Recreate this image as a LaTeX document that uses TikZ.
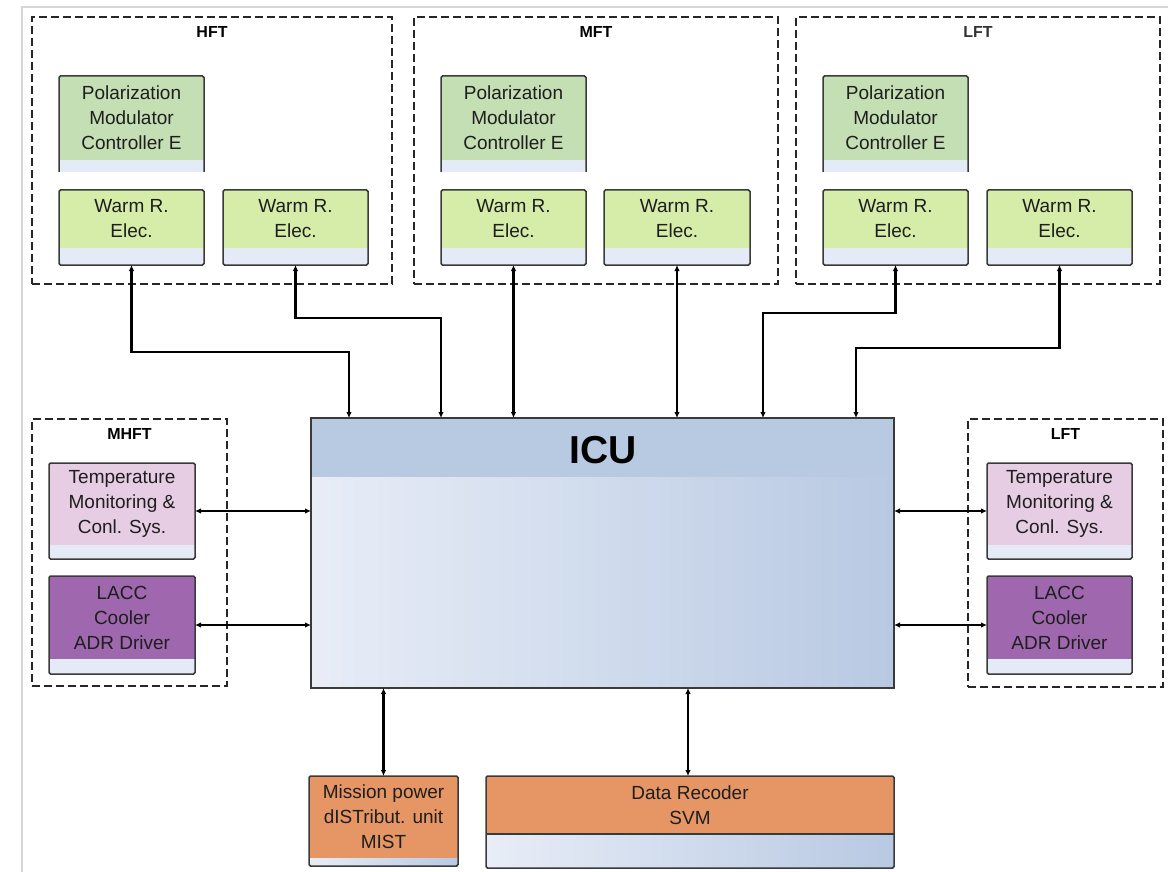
\documentclass[tikz,border=0pt]{standalone}
\usepackage{fontspec}
\setmainfont{Liberation Sans}
\usetikzlibrary{arrows.meta}
\definecolor{polg}{HTML}{C4DFB4}
\definecolor{warmg}{HTML}{D5EDA9}
\definecolor{lb}{HTML}{E4EBF6}
\definecolor{pinkc}{HTML}{E6CDE3}
\definecolor{purp}{HTML}{9E67AE}
\definecolor{orng}{HTML}{E59664}
\definecolor{icuh}{HTML}{B8C9E2}
\definecolor{icul}{HTML}{E8EDF7}
\definecolor{edgec}{HTML}{3A3A3A}
\definecolor{frm}{HTML}{D6D6D6}
\definecolor{txtc}{HTML}{1E1E1E}
\newcommand\cbox[9]{%
 \fill[#7] (#2,#3) rectangle ++(#4,#5);
 \fill[lb] (#2,#3+#5) rectangle ++(#4,#6);
 \node[bx, #9, minimum width=#4pt, minimum height=#5pt+#6pt, anchor=north west] (#1) at (#2,#3) {};
 \node[txt] at (#2+#4/2,#3+#5/2) {#8};
}
\newcommand\polbox[3]{% name, x, y
 \cbox{#1}{#2}{#3}{145}{84}{12}{polg}{Polarization\\Modulator\\Controller E}{draw=none}
 \draw[edgec, line width=1.5pt, rounded corners=1.5pt] (#1.south west) -- (#1.north west) -- (#1.north east) -- (#1.south east);
}
\begin{document}
\begin{tikzpicture}[x=1pt,y=-1pt,
  bx/.style={draw=edgec, line width=1.5pt, rounded corners=1.5pt, inner sep=0pt, outer sep=0pt},
  grp/.style={draw=black!85, line width=1.5pt, dash pattern=on 8pt off 4pt, inner sep=0pt, outer sep=0pt, anchor=north west},
  txt/.style={align=center, text=txtc, font=\fontsize{19}{25}\selectfont},
  lbl/.style={text=black, font=\fontsize{16}{16}\selectfont\bfseries},
  arr/.style={line width=2.2pt, black, {Latex[length=6pt,width=5.5pt]}-{Latex[length=6pt,width=5.5pt]}}]
\useasboundingbox (0,0) rectangle (1168,872);
\draw[frm, line width=1.5pt] (22,872) -- (22,7) -- (1168,7);

% group frames
\node[grp, minimum width=360pt, minimum height=267pt] (hft) at (32,17) {};
\node[lbl] at ([yshift=-15pt]hft.north) {HFT};
\node[grp, minimum width=364pt, minimum height=267pt] (mft) at (414,17) {};
\node[lbl] at ([yshift=-15pt]mft.north) {MFT};
\node[grp, minimum width=364pt, minimum height=267pt] (lft) at (796,17) {};
\node[lbl, text=black!80] at ([yshift=-15pt]lft.north) {LFT};
\node[grp, minimum width=195pt, minimum height=267pt] (mhft) at (32,419) {};
\node[lbl] at ([yshift=-15pt]mhft.north) {MHFT};
\node[grp, minimum width=195pt, minimum height=268pt] (lft2) at (968,419) {};
\node[lbl] at ([yshift=-15pt]lft2.north) {LFT};

% top boxes
\polbox{hpol}{59}{76}
\polbox{mpol}{441}{76}
\polbox{lpol}{823}{76}
\cbox{hw1}{59}{190}{145}{58}{17}{warmg}{Warm R.\\Elec.}{}
\cbox{hw2}{223}{190}{145}{58}{17}{warmg}{Warm R.\\Elec.}{}
\cbox{mw1}{441}{190}{145}{58}{17}{warmg}{Warm R.\\Elec.}{}
\cbox{mw2}{604}{190}{146}{58}{17}{warmg}{Warm R.\\Elec.}{}
\cbox{lw1}{823}{190}{145}{58}{17}{warmg}{Warm R.\\Elec.}{}
\cbox{lw2}{987}{190}{145}{58}{17}{warmg}{Warm R.\\Elec.}{}

% side boxes
\cbox{tl}{49}{463}{146}{82}{14}{pinkc}{Temperature\\Monitoring \&\\Conl. Sys.}{}
\cbox{cl}{49}{576}{146}{83}{15}{purp}{LACC\\Cooler\\ADR Driver}{}
\cbox{tr}{987}{463}{145}{82}{14}{pinkc}{Temperature\\Monitoring \&\\Conl. Sys.}{}
\cbox{cr}{987}{576}{145}{83}{15}{purp}{LACC\\Cooler\\ADR Driver}{}

% ICU
\shade[left color=icul, right color=icuh] (311,477) rectangle (894,688);
\fill[icuh] (311,418) rectangle (894,477);
\node[draw=edgec, line width=1.5pt, inner sep=0pt, outer sep=0pt, minimum width=583pt, minimum height=270pt, anchor=north west] (icu) at (311,418) {};
\node[font=\fontsize{39}{39}\selectfont\bfseries, text=black] at (603,450) {ICU};

% bottom boxes
\fill[orng] (309,776) rectangle (458,858);
\shade[left color=icul, right color=icuh] (309,858) rectangle (458,866);
\node[bx, minimum width=149pt, minimum height=90pt, anchor=north west] (mp) at (309,776) {};
\node[txt] at (383.5,817) {Mission power\\dISTribut. unit\\MIST};
\fill[orng] (486,776) rectangle (894,834);
\shade[left color=icul, right color=icuh] (486,834) rectangle (894,868);
\draw[edgec, line width=1.5pt] (486,834) -- (894,834);
\node[bx, minimum width=408pt, minimum height=92pt, anchor=north west] (dr) at (486,776) {};
\node[txt] at (690,805) {Data Recoder\\SVM};

% connectors top
\draw[arr] (hw1.south) -- ++(0,87) -| ([xshift=38pt]icu.north west);
\draw[arr] (hw2.south) -- ++(0,53) -| ([xshift=130pt]icu.north west);
\draw[arr] (mw1.south) -- (mw1.south |- icu.north);
\draw[arr] (mw2.south) -- (mw2.south |- icu.north);
\draw[arr] (lw1.south) -- ++(0,48) -| ([xshift=452pt]icu.north west);
\draw[arr] (lw2.south) -- ++(0,83) -| ([xshift=545pt]icu.north west);

% side connectors
\draw[arr] (tl.east) -- (tl.east -| icu.west);
\draw[arr] (cl.east) -- (cl.east -| icu.west);
\draw[arr] (tr.west) -- (tr.west -| icu.east);
\draw[arr] (cr.west) -- (cr.west -| icu.east);

% bottom connectors
\draw[arr] (mp.north) -- (mp.north |- icu.south);
\draw[arr] ([xshift=-2pt]dr.north) -- ([xshift=-2pt]dr.north |- icu.south);
\end{tikzpicture}
\end{document}
